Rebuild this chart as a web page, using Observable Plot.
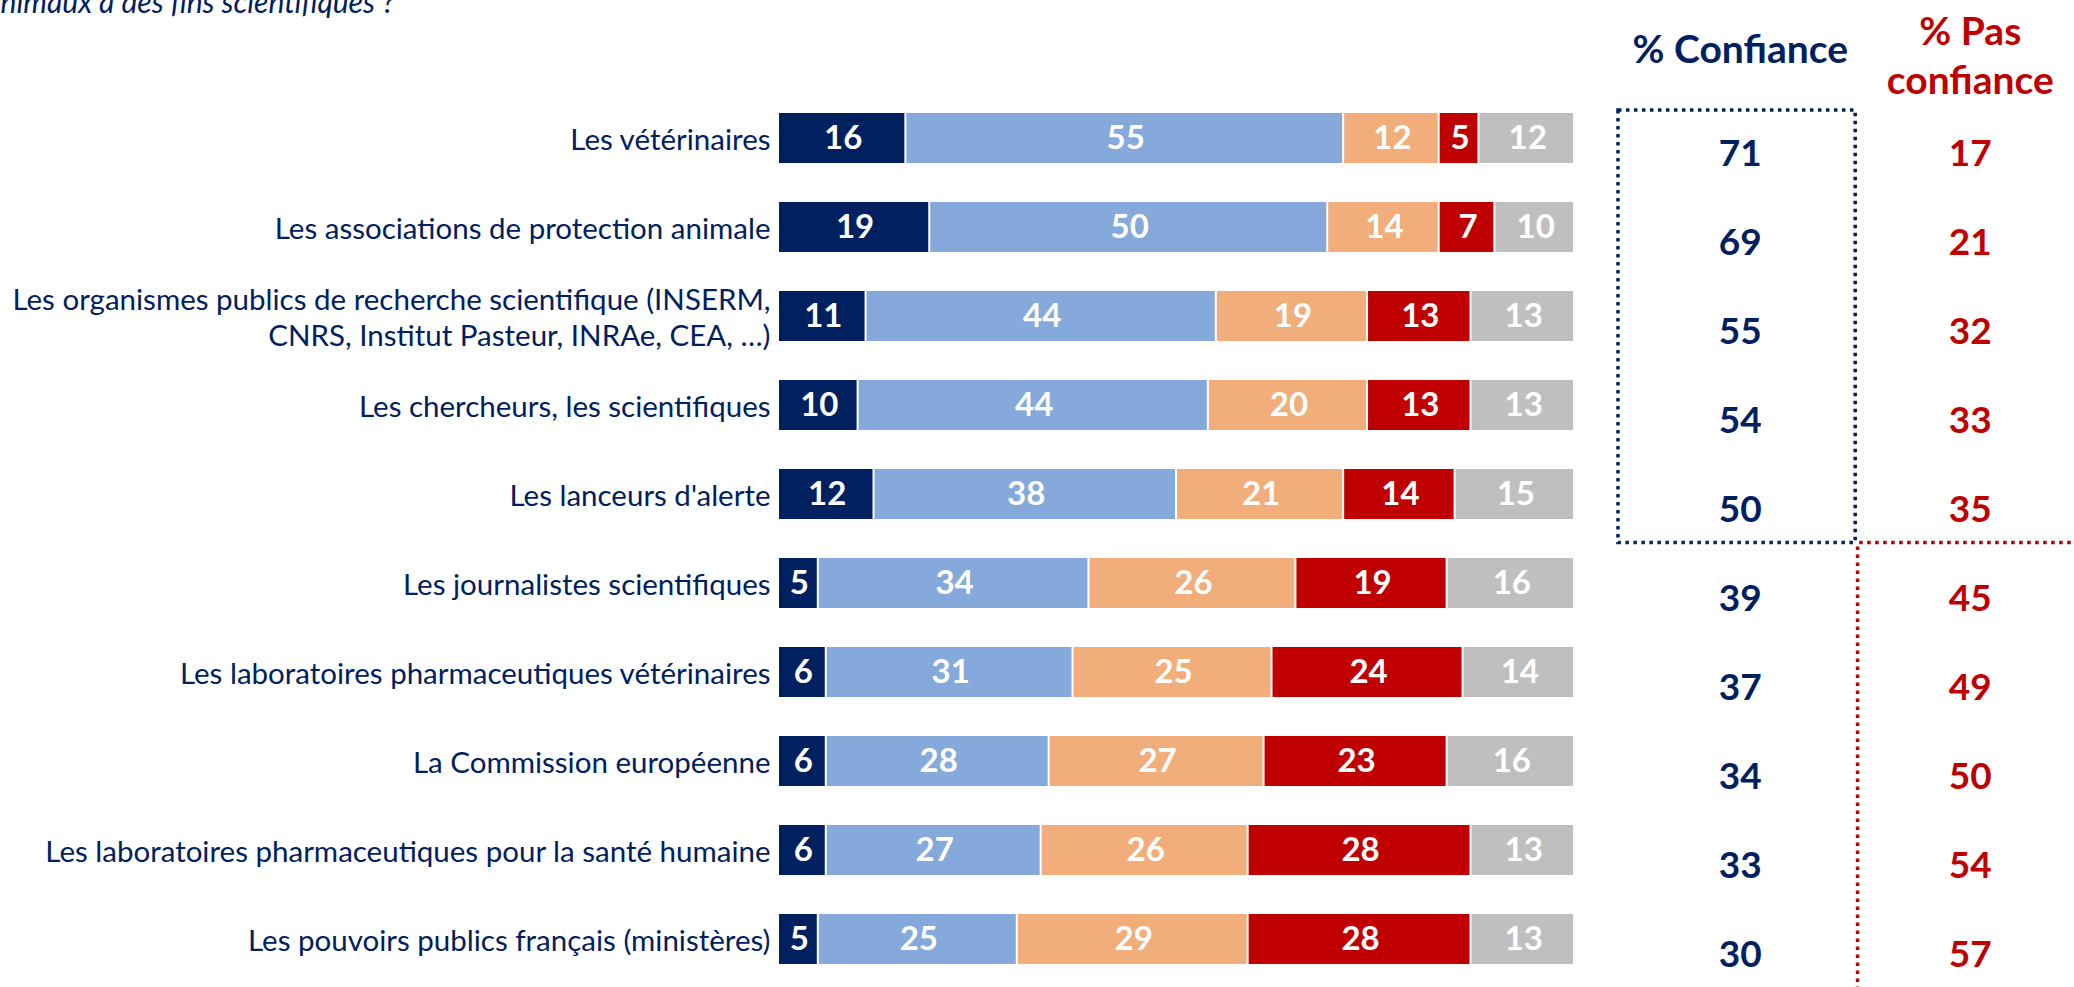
<!DOCTYPE html>
<html lang="fr">
<head>
<meta charset="utf-8">
<script src="https://cdn.jsdelivr.net/npm/d3@7"></script>
<script src="https://cdn.jsdelivr.net/npm/@observablehq/plot@0.6"></script>
<style>
  html, body { margin: 0; padding: 0; background: #fff; }
  #chart svg { display: block; }
</style>
</head>
<body>
<div id="chart"></div>
<script>
// ---- Data ----
const actors = [
  "Les vétérinaires",
  "Les associations de protection animale",
  "Les organismes publics de recherche scientifique (INSERM,\nCNRS, Institut Pasteur, INRAe, CEA, …)",
  "Les chercheurs, les scientifiques",
  "Les lanceurs d'alerte",
  "Les journalistes scientifiques",
  "Les laboratoires pharmaceutiques vétérinaires",
  "La Commission européenne",
  "Les laboratoires pharmaceutiques pour la santé humaine",
  "Les pouvoirs publics français (ministères)"
];
const answers = ["Tout à fait confiance", "Plutôt confiance", "Plutôt pas confiance", "Pas du tout confiance", "Ne se prononce pas"];
const answerColors = ["#002060", "#86A9DB", "#F1AE7B", "#C00000", "#BFBFBF"];
const toutAFait   = [16, 19, 11, 10, 12, 5, 6, 6, 6, 5];
const plutot      = [55, 50, 44, 44, 38, 34, 31, 28, 27, 25];
const plutotPas   = [12, 14, 19, 20, 21, 26, 25, 27, 26, 29];
const pasDuTout   = [5, 7, 13, 13, 14, 19, 24, 23, 28, 28];
const nsp         = [12, 10, 13, 13, 15, 16, 14, 16, 13, 13];
const pctConfiance    = [71, 69, 55, 54, 50, 39, 37, 34, 33, 30];
const pctPasConfiance = [17, 21, 32, 33, 35, 45, 49, 50, 54, 57];
const questionTail = "nimaux à des fins scientifiques ?";
const headConfiance = "% Confiance";
const headPasConfiance = "% Pas\nconfiance";

// ---- Tables built from the arrays ----
const series = [toutAFait, plutot, plutotPas, pasDuTout, nsp];
const long = [];
actors.forEach((a, i) => series.forEach((s, j) => long.push({actor: a, answer: answers[j], value: s[i]})));
const rows = actors.map((a, i) => ({actor: a, conf: pctConfiance[i], pas: pctPasConfiance[i]}));

// ---- Layout (x positions in the % units of the bar scale) ----
const NAVY = "#002060", RED = "#C00000";
const COL_CONF = 120.7, COL_PAS = 149.6;
const BOX_X1 = 105.4, BOX_X2 = 135.2, RED_X = 135.5, RIGHT_X = 163;

function guides(index, scales) {
  const x = scales.x, y = scales.y;
  const bw = typeof y.bandwidth === "function" ? y.bandwidth() : 51;
  const start = a => y(a);
  const top = start(actors[0]) - 3;
  const bottom = ((start(actors[4]) + bw) + start(actors[5])) / 2 + 4;
  const g = d3.create("svg:g").attr("fill", "none").attr("stroke-width", 3.5).attr("stroke-dasharray", "3.5,4.5");
  g.append("path").attr("stroke", NAVY)
    .attr("d", `M${x(BOX_X1)},${top}H${x(BOX_X2)}V${bottom}H${x(BOX_X1)}Z`);
  g.append("path").attr("stroke", RED)
    .attr("d", `M${x(BOX_X2) + 4},${bottom}H${x(RIGHT_X)}M${x(RED_X)},${bottom + 4}V${y.range()[1] + 10}`);
  return g.node();
}

const chart = Plot.plot({
  width: 2074,
  height: 987,
  margin: 0,
  style: {fontFamily: "Lato, 'Open Sans', sans-serif", background: "#fff", overflow: "visible"},
  x: {domain: [0, 100], range: [779, 1575], axis: null},
  y: {domain: actors, range: [89, 989], paddingInner: 0.433, paddingOuter: 0.2167, axis: null},
  color: {domain: answers, range: answerColors},
  marks: [
    Plot.barX(long, Plot.stackX({x: "value", y: "actor", fill: "answer", order: answers, insetRight: 2})),
    Plot.text(long, Plot.stackX({x: "value", y: "actor", z: "answer", order: answers, text: d => String(d.value),
      fill: "white", fontWeight: "bold", fontSize: 33})),
    Plot.text(rows, {x: 0, y: "actor", text: "actor", textAnchor: "end", dx: -9, fill: NAVY, fontSize: 29.5, lineHeight: 1.22}),
    Plot.text(rows, {x: () => COL_CONF, y: "actor", text: d => String(d.conf), dy: 16, fill: NAVY, fontWeight: "bold", fontSize: 37}),
    Plot.text(rows, {x: () => COL_PAS, y: "actor", text: d => String(d.pas), dy: 16, fill: RED, fontWeight: "bold", fontSize: 37}),
    Plot.text([headConfiance], {x: () => COL_CONF, frameAnchor: "top", lineAnchor: "middle", dy: 50, text: d => d, fill: NAVY, fontWeight: "bold", fontSize: 39}),
    Plot.text([headPasConfiance], {x: () => COL_PAS, frameAnchor: "top", lineAnchor: "middle", dy: 53, text: d => d, fill: RED, fontWeight: "bold", fontSize: 39, lineHeight: 1.28}),
    Plot.text([questionTail], {frameAnchor: "top-left", lineAnchor: "middle", dy: 2.5, text: d => d, textAnchor: "start", fill: NAVY, fontStyle: "italic", fontSize: 30}),
    guides
  ]
});
document.getElementById("chart").append(chart);
</script>
</body>
</html>
